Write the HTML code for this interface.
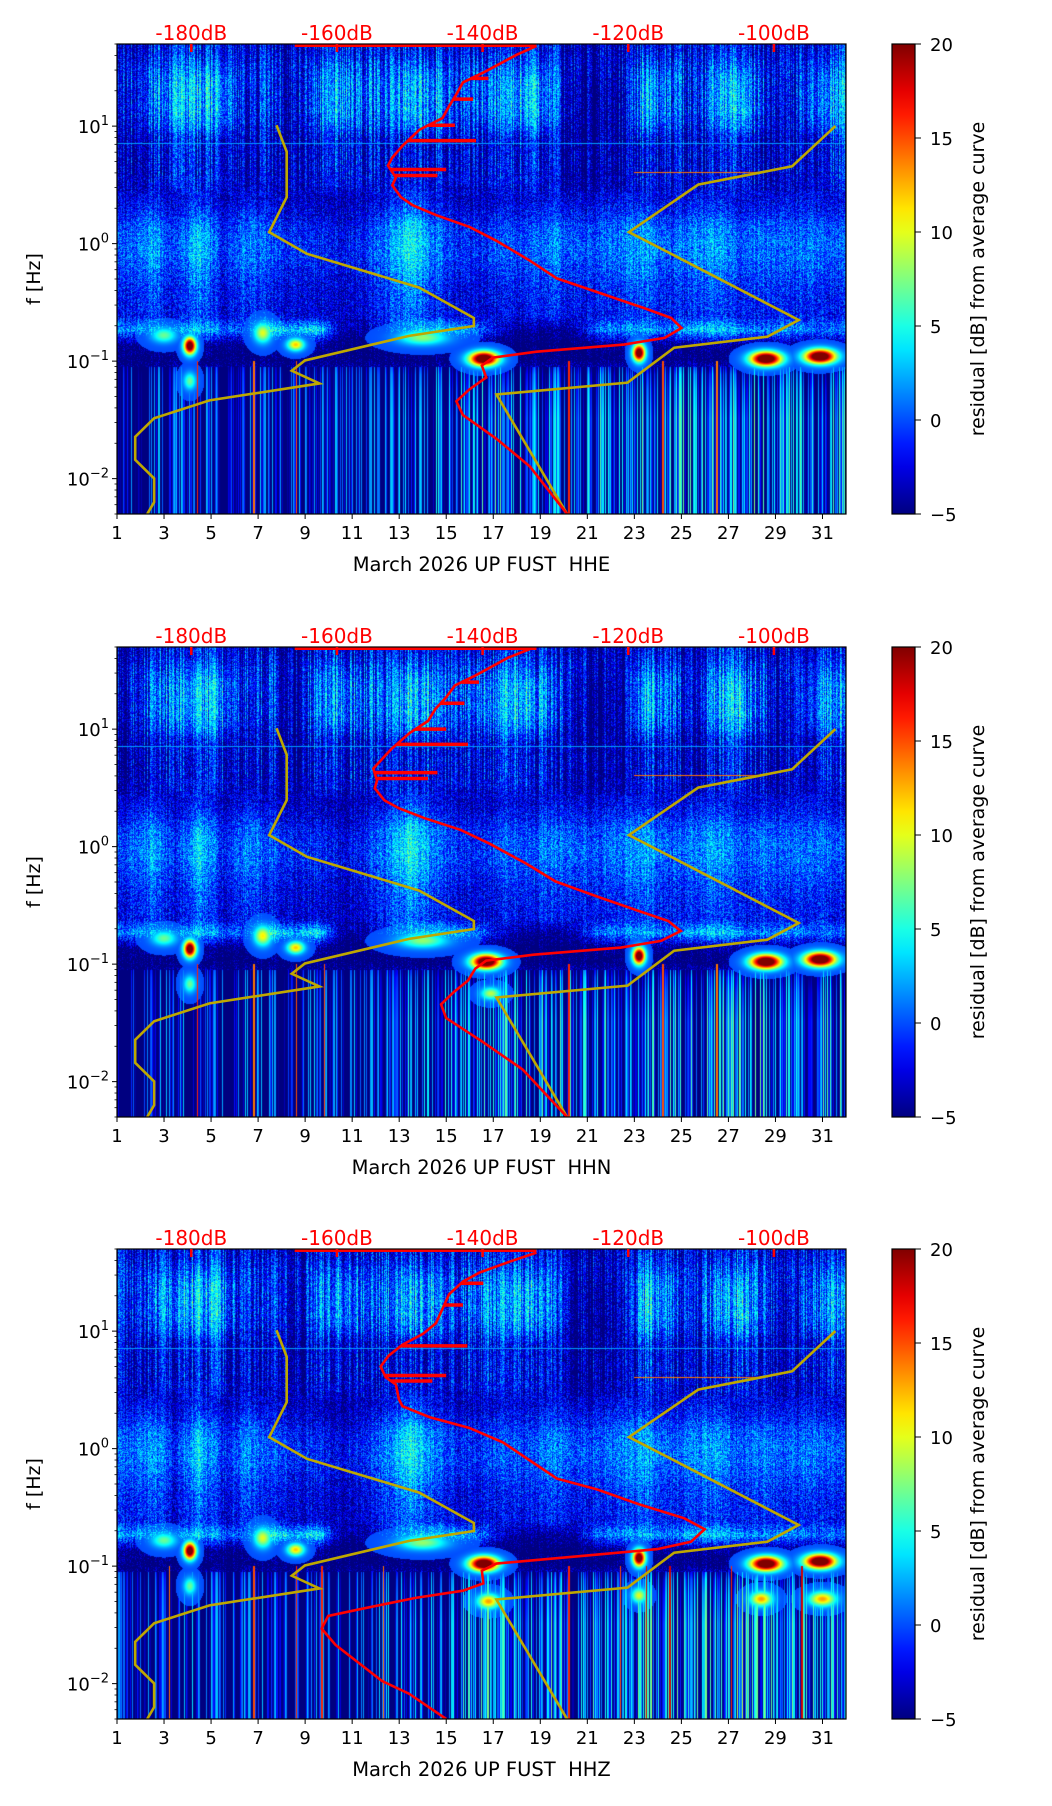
<!DOCTYPE html>
<html><head><meta charset="utf-8">
<style>
body{margin:0;background:#fff;width:1052px;height:1806px;position:relative;overflow:hidden;font-family:"DejaVu Sans","Liberation Sans",sans-serif}
canvas{position:absolute}
#fig{position:absolute;left:0;top:0}
</style></head>
<body>
<svg id="fig" width="1052" height="1806" xmlns="http://www.w3.org/2000/svg"></svg>
<script>
// ---------- data ----------
const dayTicks=[1,3,5,7,9,11,13,15,17,19,21,23,25,27,29,31];
const dbTicks=[-180,-160,-140,-120,-100];
const dbTickLabels=['-180dB','-160dB','-140dB','-120dB','-100dB'];
const cbTicks=[20,15,10,5,0,-5];
const cbTickLabels=['20','15','10','5','0','\u22125'];
const decadeTicks=[1,0,-1,-2];
const channelNames=['HHE','HHN','HHZ'];

// per-day activity (days 1..31)
const actHigh=[3,5,6,7,6,3,4,2,5,6,5,5,7,6,4,5,6,7,5,2,1,2,7,5,3,6,7,4,2,5,6];
const actMid=[3,5,2,6,2,4,3,2,2,1,2,4,7,4,2,2,3,3,4,3,3,4,5,3,4,5,3,4,3,4,3];
const actLow=[1,2,3,2,2,2,2,2,3,2,2,3,5,4,5,6,7,5,6,5,6,5,7,6,6,7,8,7,6,7,6];
const cyanBand=[4,4,3,6,3,2,8,5,7,-2,-3,1,5,6,5,3,-2,-3,-3,-2,3,4,5,3,5,6,4,3,4,3,3];
// per frequency row (1/8 decade rows, 50 Hz down to 0.005 Hz)
const rowBase=[-1.5,-1.5,-3,-3.5,-3.5,-3.5,-2.5,-2,-2,-2.5,-3,-2.5,-2,-1.5,-1.5,-2,-2.5,-2.5,-2.5,0,-4,-4,-3.5,-3.5,-3.5,-3.5,-3.5,-3.5,-3.5,-3.5,-3.5,-3.5];
const rowGain=[0.5,0.8,1.3,1.4,1.4,1.2,0.6,0.5,0.5,0.5,0.7,0.9,1.2,1.2,1.2,1.1,1.0,0.9,0.8,1,0.2,0,0.5,0.7,0.8,0.9,0.9,0.9,0.9,0.9,0.9,0.9];
const rowBand=['H','H','H','H','H','H','H','H','H','H','M','M','M','M','M','M','M','M','M','C','C','N','L','L','L','L','L','L','L','L','L','L'];

// noise models (dB, log10 Hz)
const lowModelDb=[-168.3,-166.9,-166.9,-169.3,-164.1,-148.7,-141.2,-141.2,-150.1,-164.4,-166.2,-162.4,-177.5,-185.1,-187.7,-187.7,-185.1,-185.1,-186.05];
const lowModelLf=[1.008,0.782,0.395,0.098,-0.087,-0.374,-0.633,-0.701,-0.785,-0.994,-1.082,-1.19,-1.334,-1.486,-1.644,-1.84,-1.998,-2.2,-2.301];
const highModelDb=[-91.55,-97.5,-110.4,-119.9,-112.3,-96.6,-100.9,-113.7,-120.1,-138.1,-128.4];
const highModelLf=[1.001,0.658,0.502,0.098,-0.145,-0.65,-0.792,-0.886,-1.183,-1.284,-2.301];

// average PSD curves
const redLfHHE=[1.682,1.608,1.456,1.372,1.271,1.170,1.069,0.968,0.833,0.732,0.664,0.563,0.496,0.395,0.327,0.243,0.142,0.024,-0.145,-0.296,-0.431,-0.549,-0.633,-0.718,-0.802,-0.859,-0.920,-0.970,-1.038,-1.139,-1.240,-1.342,-1.459,-1.661,-1.897,-2.301];
const redDbHHE=[-132.6,-135.3,-139.9,-142.7,-143.6,-144.6,-145.5,-148.7,-151.0,-152.4,-153.0,-151.9,-152.4,-151.2,-149.6,-146.4,-141.8,-138.1,-133.5,-129.8,-123.4,-117.8,-114.1,-112.7,-115.0,-120.6,-132.6,-138.6,-140.1,-139.5,-141.8,-143.6,-142.7,-138.1,-133.5,-128.4];
const redLfHHN=redLfHHE.slice();
const redDbHHN=[-133.5,-136.5,-141.0,-143.8,-145.0,-146.5,-147.5,-150.0,-152.5,-154.0,-155.0,-154.5,-154.8,-153.5,-151.5,-148.0,-143.0,-139.0,-134.0,-130.0,-124.0,-118.5,-114.5,-112.8,-115.5,-121.0,-133.0,-139.5,-141.0,-142.0,-144.0,-145.7,-145.0,-140.0,-134.5,-128.4];
const redLfHHZ=[1.668,1.591,1.499,1.422,1.314,1.191,1.068,0.976,0.884,0.791,0.699,0.607,0.545,0.422,0.361,0.268,0.176,0.053,-0.101,-0.255,-0.347,-0.470,-0.593,-0.686,-0.793,-0.855,-0.907,-0.978,-1.039,-1.147,-1.209,-1.270,-1.362,-1.424,-1.532,-1.670,-1.978,-2.086,-2.301];
const redDbHHZ=[-132.6,-136.3,-140.4,-142.7,-144.6,-145.5,-146.4,-148.2,-151.0,-152.9,-154.0,-153.3,-151.9,-151.5,-151.0,-147.3,-141.8,-137.2,-133.5,-129.8,-124.3,-118.7,-112.3,-109.5,-111.4,-116.0,-125.2,-138.1,-140.1,-139.9,-142.7,-149.2,-156.5,-161.2,-162.1,-160.2,-153.8,-150.1,-145.0];
const spikeLfHHE=[1.406,1.230,1.008,0.877,0.631,0.580];
const spikeDbHHE=[-139.2,-141.3,-143.8,-140.9,-145.0,-146.2];
const spikeLfHHN=[1.40,1.22,1.0,0.87,0.63,0.58];
const spikeDbHHN=[-140.5,-142.5,-145.0,-142.0,-146.2,-147.5];
const spikeLfHHZ=[1.407,1.222,0.874,0.622,0.576];
const spikeDbHHZ=[-139.9,-142.7,-142.1,-145.0,-146.9];
const topSegDb=[-165.8,-132.6];

// strong events (blobs)
const blobDayHHE=[4.1,16.6,23.2,28.6,30.9,7.2,8.6,4.1,14.0,3.0];
const blobLfHHE=[-0.87,-0.98,-0.93,-0.98,-0.96,-0.76,-0.86,-1.17,-0.80,-0.78];
const blobValHHE=[24,26,24,26,26,10,12,7,8,7];
const blobWdHHE=[0.25,0.6,0.25,0.65,0.65,0.35,0.35,0.25,1.0,0.5];
const blobWfHHE=[0.07,0.06,0.07,0.06,0.06,0.08,0.05,0.07,0.06,0.06];
const blobDayHHN=[4.1,16.7,23.2,28.6,30.9,7.2,8.6,4.1,14.0,3.0,16.9];
const blobLfHHN=[-0.87,-0.98,-0.93,-0.98,-0.96,-0.76,-0.86,-1.17,-0.80,-0.78,-1.25];
const blobValHHN=[24,26,24,26,26,11,12,7,8,7,9];
const blobWdHHN=[0.25,0.6,0.25,0.65,0.65,0.35,0.35,0.25,1.0,0.5,0.4];
const blobWfHHN=[0.07,0.06,0.07,0.06,0.06,0.08,0.05,0.07,0.06,0.06,0.05];
const blobDayHHZ=[4.1,16.6,23.2,28.6,30.9,7.2,8.6,4.1,14.0,3.0,16.8,23.2,28.4,31.0];
const blobLfHHZ=[-0.87,-0.98,-0.93,-0.98,-0.96,-0.76,-0.86,-1.17,-0.80,-0.78,-1.30,-1.25,-1.28,-1.28];
const blobValHHZ=[24,26,24,26,26,10,12,7,8,7,13,10,13,13];
const blobWdHHZ=[0.25,0.6,0.25,0.65,0.65,0.35,0.35,0.25,1.0,0.5,0.45,0.3,0.45,0.55];
const blobWfHHZ=[0.07,0.06,0.07,0.06,0.06,0.08,0.05,0.07,0.06,0.06,0.06,0.06,0.06,0.06];
// thin vertical streaks in low band
const streakDayHHE=[4.4,6.8,8.6,20.2,24.2,26.5];
const streakValHHE=[16,14,15,16,15,14];
const streakDayHHN=[4.4,6.8,8.6,20.2,24.2,26.5,9.8];
const streakValHHN=[16,14,15,16,15,14,15];
const streakDayHHZ=[3.2,6.8,8.6,9.7,12.3,20.2,22.4,23.5,24.5,27.1,30.1];
const streakValHHZ=[14,15,16,16,14,16,15,18,18,16,18];
// horizontal narrow-band lines
const hLineLf=[0.857,0.61];
const hLineDay0=[1,23];
const hLineDay1=[32,28.5];
const hLineVal=[2,14];

// ---------- geometry ----------
const PX=117,PW=729,PH=470,TOPS=[44,647,1249];
const DB0=-190.2,DB1=-90.1,LF0=Math.log10(50),NDEC=4;
const xDay=d=>PX+(d-1)/31*PW;
const xDb=db=>PX+(db-DB0)/(DB1-DB0)*PW;
const yLf=(lf,top)=>top+(LF0-lf)/NDEC*PH;
const CBX=892,CBW=23;

function jet(t){t=Math.max(0,Math.min(1,t));const c=x=>Math.max(0,Math.min(1,x));
 return [c(1.5-Math.abs(4*t-3)),c(1.5-Math.abs(4*t-2)),c(1.5-Math.abs(4*t-1))];}
const vt=v=>(v+5)/25;
// deterministic grain (visual texture only)
function grain(i){let h=(i*2654435761)>>>0;h^=h>>>15;h=(h*2246822519)>>>0;h^=h>>>13;return (h%1000)/1000;}

const plotData=[
 {red:[redDbHHE,redLfHHE],spk:[spikeDbHHE,spikeLfHHE],bl:[blobDayHHE,blobLfHHE,blobValHHE,blobWdHHE,blobWfHHE],st:[streakDayHHE,streakValHHE],lowScale:1},
 {red:[redDbHHN,redLfHHN],spk:[spikeDbHHN,spikeLfHHN],bl:[blobDayHHN,blobLfHHN,blobValHHN,blobWdHHN,blobWfHHN],st:[streakDayHHN,streakValHHN],lowScale:1},
 {red:[redDbHHZ,redLfHHZ],spk:[spikeDbHHZ,spikeLfHHZ],bl:[blobDayHHZ,blobLfHHZ,blobValHHZ,blobWdHHZ,blobWfHHZ],st:[streakDayHHZ,streakValHHZ],lowScale:1.1}
];

const NS='http://www.w3.org/2000/svg';
const svg=document.getElementById('fig');
function mk(tag,parent,attrs){const e=document.createElementNS(NS,tag);for(const k in attrs)e.setAttribute(k,attrs[k]);(parent||svg).appendChild(e);return e;}

const defs=mk('defs',svg,{});
const grad=mk('linearGradient',defs,{id:'jetg',x1:'0',y1:'1',x2:'0',y2:'0'});
for(let i=0;i<=20;i++){const c=jet(i/20);mk('stop',grad,{offset:(i/20),'stop-color':`rgb(${Math.round(c[0]*255)},${Math.round(c[1]*255)},${Math.round(c[2]*255)})`});}

function bandVal(b,d,ls){if(b==='H')return actHigh[d];if(b==='M')return actMid[d];if(b==='C')return cyanBand[d];if(b==='L')return actLow[d]*ls;return 0;}
function interpX(lfArr,dbArr,lf){for(let i=0;i<lfArr.length-1;i++){const a=lfArr[i],b=lfArr[i+1];if((lf<=a&&lf>=b)){const t=(lf-a)/(b-a);return dbArr[i]+t*(dbArr[i+1]-dbArr[i]);}}return dbArr[0];}
function LF1(){return LF0-NDEC;}

plotData.forEach((P,k)=>{
 const top=TOPS[k];
 const cv=document.createElement('canvas');cv.width=PW;cv.height=PH;cv.style.left=PX+'px';cv.style.top=top+'px';
 
 
 document.body.insertBefore(cv,svg);
 const ctx=cv.getContext('2d');const img=ctx.createImageData(PW,PH);
 const G=[];for(let r=0;r<32;r++){G.push([]);for(let d=0;d<31;d++)G[r].push(rowBase[r]+rowGain[r]*bandVal(rowBand[r],d,P.lowScale));}
 const [bD,bL,bV,bW,bF]=P.bl;const [sD,sV]=P.st;
 const colG=[];for(let px=0;px<PW;px++)colG.push(grain(px+k*977));
 for(let py=0;py<PH;py++){
  const lf=LF0-(py+0.5)/PH*NDEC;
  let rf=(py+0.5)/PH*32-0.5;let r0=Math.floor(rf);let fr=rf-r0;if(r0<0){r0=0;fr=0;}if(r0>=31){r0=30;fr=1;}
  const rowI=Math.min(31,Math.floor((py+0.5)/PH*32));
  const band=rowBand[rowI];
  const colAmp=band==='L'?9:(rowI<=8?3.5:(band==='H'?2.5:1.2));
  for(let px=0;px<PW;px++){
   const day=1+(px+0.5)/PW*31;
   let dd=day-1.5;let d0=Math.floor(dd);let fd=dd-d0;if(d0<0){d0=0;fd=0;}if(d0>=30){d0=29;fd=1;}
   let v=(G[r0][d0]*(1-fd)+G[r0][d0+1]*fd)*(1-fr)+(G[r0+1][d0]*(1-fd)+G[r0+1][d0+1]*fd)*fr;
   v+=(colG[px]-(band==='L'?0.45:0.5))*colAmp;
   if(band!=='L')v+=(grain(px*577+py*131)-0.5)*2.8;
   for(let i=0;i<bD.length;i++){const e=((day-bD[i])/bW[i])**2+((lf-bL[i])/bF[i])**2;if(e<6){const w=bV[i]*Math.exp(-e);if(w>v)v=w;}}
   if(lf<-1.0){for(let i=0;i<sD.length;i++){if(Math.abs(xDay(sD[i])-PX-px)<0.7){v=Math.max(v,sV[i]);}}}
   for(let i=0;i<hLineLf.length;i++){if(Math.abs(yLf(hLineLf[i],top)-top-py)<0.8&&day>=hLineDay0[i]&&day<=hLineDay1[i])v=Math.max(v,hLineVal[i]);}
   const c=jet(vt(v));const o=(py*PW+px)*4;
   img.data[o]=c[0]*255;img.data[o+1]=c[1]*255;img.data[o+2]=c[2]*255;img.data[o+3]=255;
  }
 }
 ctx.putImageData(img,0,0);

 const g=mk('g',svg,{});
 
 
 const cp=mk('clipPath',defs,{id:'clip'+k});mk('rect',cp,{x:PX,y:top,width:PW,height:PH});

 const lm=mk('polyline',g,{points:lowModelDb.map((d,i)=>xDb(d)+','+yLf(lowModelLf[i],top)).join(' '),fill:'none',stroke:'#bfa800','stroke-width':2.6,'clip-path':`url(#clip${k})`});
 
 
 const hm=mk('polyline',g,{points:highModelDb.map((d,i)=>xDb(d)+','+yLf(highModelLf[i],top)).join(' '),fill:'none',stroke:'#bfa800','stroke-width':2.6,'clip-path':`url(#clip${k})`});
 
 
 const [rD,rL]=P.red;
 const rc=mk('polyline',g,{points:rD.map((d,i)=>xDb(d)+','+yLf(rL[i],top)).join(' '),fill:'none',stroke:'#f00','stroke-width':2.6,'clip-path':`url(#clip${k})`});
 
 
 const ts=mk('line',g,{x1:xDb(topSegDb[0]),x2:xDb(topSegDb[1]),y1:top+1.5,y2:top+1.5,stroke:'#f00','stroke-width':3});
 
 
 const [sd,sl]=P.spk;
 sd.forEach((d,i)=>{const x0=xDb(interpX(rL,rD,sl[i]));const y=yLf(sl[i],top);
  const s=mk('line',g,{x1:x0,x2:xDb(d),y1:y,y2:y,stroke:'#f00','stroke-width':3.5});
  
  });

 const fr=mk('rect',g,{x:PX,y:top,width:PW,height:PH,fill:'none',stroke:'#000','stroke-width':1.2});
 
 
 dayTicks.forEach(d=>{const x=xDay(d);
  const t=mk('line',g,{x1:x,x2:x,y1:top+PH,y2:top+PH+5,stroke:'#000','stroke-width':1});
  
  
  const l=mk('text',g,{x:x,y:top+PH+25,'text-anchor':'middle','font-size':18,fill:'#000'});l.textContent=d;
  
  });
 const xl=mk('text',g,{x:PX+PW/2,y:top+PH+57,'text-anchor':'middle','font-size':19.5,fill:'#000'});
 xl.textContent='March 2026 UP FUST\u00a0\u00a0'+channelNames[k];
 
 
 for(let dec=-3;dec<=1;dec++){for(let m=1;m<=9;m++){const lf=dec+Math.log10(m);if(lf<LF1()||lf>LF0)continue;const y=yLf(lf,top);const len=m===1?5:2.5;
  const t=mk('line',g,{x1:PX-len,x2:PX,y1:y,y2:y,stroke:'#000','stroke-width':m===1?1:0.8});
  
  }}
 decadeTicks.forEach(e=>{const y=yLf(e,top);
  const l=mk('text',g,{x:PX-8,y:y+7,'text-anchor':'end','font-size':18,fill:'#000'});
  const a=mk('tspan',l,{});a.textContent='10';
  const b=mk('tspan',l,{dy:-8,'font-size':13});b.textContent=e<0?'\u2212'+(-e):String(e);
  
  });
 const yl=mk('text',g,{x:0,y:0,transform:`translate(40,${top+PH/2}) rotate(-90)`,'text-anchor':'middle','font-size':19,fill:'#000'});
 yl.textContent='f [Hz]';
 
 
 dbTicks.forEach((d,i)=>{const x=xDb(d);
  const t=mk('line',g,{x1:x,x2:x,y1:top,y2:top+8,stroke:'#f00','stroke-width':2.5});
  
  
  const l=mk('text',g,{x:x,y:top-4,'text-anchor':'middle','font-size':20,fill:'#f00'});l.textContent=dbTickLabels[i];
  
  });
 const cb=mk('rect',g,{x:CBX,y:top,width:CBW,height:PH,fill:'url(#jetg)',stroke:'#000','stroke-width':1.2});
 
 
 cbTicks.forEach((v,i)=>{const y=top+(20-v)/25*PH;
  const t=mk('line',g,{x1:CBX+CBW,x2:CBX+CBW+6,y1:y,y2:y,stroke:'#000','stroke-width':1});
  
  
  const l=mk('text',g,{x:CBX+CBW+15,y:y+7,'font-size':18,fill:'#000'});l.textContent=cbTickLabels[i];
  
  });
 const cl=mk('text',g,{x:0,y:0,transform:`translate(984,${top+PH/2}) rotate(-90)`,'text-anchor':'middle','font-size':19,fill:'#000'});
 cl.textContent='residual [dB] from average curve';
 
 
});
</script>
</body></html>
